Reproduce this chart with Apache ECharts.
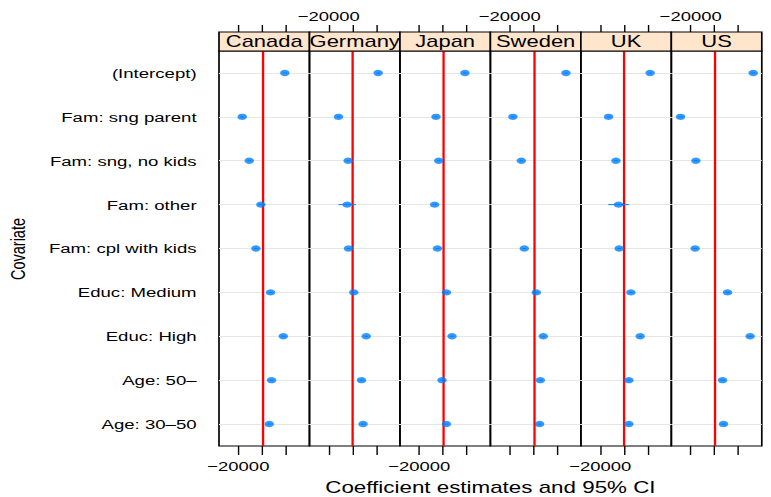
<!DOCTYPE html>
<html>
<head>
<meta charset="utf-8">
<script src="https://cdn.jsdelivr.net/npm/echarts@6.0.0/dist/echarts.min.js"></script>
<style>
    html, body {margin: 0; padding: 0; background: #fff; overflow: hidden;}
    /* the original plot is stretched sideways, so draw narrow and stretch */
    #main {width: 551px; height: 497px; transform: scaleX(1.39927); transform-origin: 0 0;}
</style>
</head>
<body>
<div id="main"></div>
<script>
const countries = ['Canada', 'Germany', 'Japan', 'Sweden', 'UK', 'US'];
const covariates = ['(Intercept)', 'Fam: sng parent', 'Fam: sng, no kids', 'Fam: other',
    'Fam: cpl with kids', 'Educ: Medium', 'Educ: High', 'Age: 50\u2013', 'Age: 30\u201350'];

// coefficient estimates, one array per country (null = not estimated)
const canada = [19200, -16700, -10800, -1000, -5200, 7200, 17900, 8000, 6100];
const germany = [21600, -11800, -3700, -4500, -3400, 1100, 11500, 7600, 8900];
const japan = [18500, -5900, -3600, -7000, -4700, 2900, 7600, -800, 2900];
const sweden = [27400, -17300, -10200, null, -7700, 2400, 8300, 5800, 5200];
const uk = [22100, -12900, -6700, -4500, -4000, 5900, 13700, 4200, 4200];
const us = [32700, -28500, -15600, null, -16200, 11100, 30100, 6900, 7700];

// half width of the 95% CI
const canadaCI = [1500, 1500, 1500, 2500, 1500, 1500, 1500, 1500, 1500];
const germanyCI = [1500, 1500, 1500, 7300, 1500, 1500, 1500, 1500, 1500];
const japanCI = [1500, 1500, 1500, 1500, 1500, 1500, 1500, 1500, 1500];
const swedenCI = [1500, 1500, 1500, null, 1500, 1500, 1500, 1500, 1500];
const ukCI = [1500, 1500, 1500, 8700, 1500, 1500, 1500, 1500, 1500];
const usCI = [2000, 2000, 2000, null, 2000, 2000, 2000, 2000, 2000];

const xTicks = [-20000, 0, 20000];
const xTickLabels = [-20000];
const xMin = -36300;
const xMax = 39900;

const estimates = [canada, germany, japan, sweden, uk, us];
const halfCI = [canadaCI, germanyCI, japanCI, swedenCI, ukCI, usCI];

// layout (in unstretched pixels)
const SX = 771 / 551;
const px = v => v / SX;
const PANEL_LEFT = px(219);
const PANEL_W = px(761.8 - 219) / 6;
const PANEL_TOP = 51;
const PANEL_H = 395;
const STRIP_H = 19;
const FONT = '"Liberation Sans", Arial, Helvetica, sans-serif';

const fmt = v => String(v).replace('-', '\u2212');

const grids = [], xAxes = [], yAxes = [], series = [], graphics = [];

countries.forEach((name, i) => {
    const left = PANEL_LEFT + i * PANEL_W;
    grids.push({
        left: left, top: PANEL_TOP, width: PANEL_W, height: PANEL_H,
        show: true, borderColor: '#000', borderWidth: 1.2,
        backgroundColor: 'transparent', containLabel: false, outerBoundsMode: 'none'
    });

    const xBase = {
        type: 'value', gridIndex: i, min: xMin, max: xMax,
        splitLine: {show: false}, axisLine: {show: false}
    };
    const labelBase = {customValues: xTickLabels, formatter: fmt, fontSize: 13.2, color: '#000', fontFamily: FONT};
    xAxes.push(Object.assign({}, xBase, {
        position: 'bottom',
        axisTick: {show: true, length: 9, customValues: xTicks, lineStyle: {color: '#000', width: 1}},
        axisLabel: Object.assign({show: i % 2 === 0, margin: 14}, labelBase)
    }));
    xAxes.push(Object.assign({}, xBase, {
        position: 'top', offset: STRIP_H,
        axisTick: {show: true, length: 7, customValues: xTicks, lineStyle: {color: '#000', width: 1}},
        axisLabel: Object.assign({show: i % 2 === 1, margin: 9}, labelBase)
    }));

    yAxes.push({
        type: 'category', gridIndex: i, data: covariates, inverse: true, boundaryGap: true,
        position: i === 5 ? 'right' : 'left',
        axisLine: {show: false},
        axisTick: {show: i === 0 || i === 5, alignWithLabel: true, interval: 0, length: 8, lineStyle: {color: '#000', width: 1}},
        axisLabel: {show: i === 0, interval: 0, margin: 16, fontSize: 13.3, color: '#000', fontFamily: FONT},
        splitLine: {show: false}
    });

    const pts = [];
    const cis = [];
    estimates[i].forEach((v, k) => {
        if (v === null) return;
        pts.push([v, k]);
        cis.push([v - halfCI[i][k], v + halfCI[i][k], k]);
    });

    series.push({
        type: 'custom', xAxisIndex: 2 * i, yAxisIndex: i, z: 3, silent: true,
        data: cis, encode: {x: [0, 1], y: 2},
        renderItem: (params, api) => {
            const a = api.coord([api.value(0), api.value(2)]);
            const b = api.coord([api.value(1), api.value(2)]);
            return {
                type: 'line',
                shape: {x1: a[0], y1: a[1], x2: b[0], y2: b[1]},
                style: {stroke: '#0080ff', lineWidth: 1}
            };
        }
    });

    series.push({
        type: 'scatter', xAxisIndex: 2 * i, yAxisIndex: i, z: 4,
        symbol: 'circle', symbolSize: [6.8, 6.3],
        itemStyle: {color: '#0080ff'},
        data: pts,
        markLine: {
            silent: true, z: 1, symbol: ['none', 'none'], label: {show: false}, animation: false,
            data: covariates.map((c, k) => ({yAxis: k, lineStyle: {color: '#e6e6e6', width: 1, type: 'solid'}}))
                .concat([{xAxis: 0, lineStyle: {color: '#ff0000', width: 1.65, type: 'solid'}}])
        }
    });

    // strip with the country name
    graphics.push({
        type: 'rect', z: 10,
        shape: {x: left, y: PANEL_TOP - STRIP_H, width: PANEL_W, height: STRIP_H},
        style: {fill: '#ffe5cc', stroke: '#000', lineWidth: 1.2}
    });
    graphics.push({
        type: 'text', z: 11,
        x: left + PANEL_W / 2, y: PANEL_TOP - STRIP_H / 2 + 0.5,
        style: {
            text: name, fill: '#000', fontSize: 15.7, fontFamily: FONT,
            align: 'center', verticalAlign: 'middle', textAlign: 'center', textVerticalAlign: 'middle'
        }
    });
});

graphics.push({
    type: 'text', x: px(18.5), y: 249, rotation: Math.PI / 2,
    style: {
        text: 'Covariate', fill: '#000', fontSize: 14.5, fontFamily: FONT,
        align: 'center', verticalAlign: 'middle', textAlign: 'center', textVerticalAlign: 'middle'
    }
});
graphics.push({
    type: 'text', x: PANEL_LEFT + 3 * PANEL_W, y: 487,
    style: {
        text: 'Coefficient estimates and 95% CI', fill: '#000', fontSize: 16, fontFamily: FONT,
        align: 'center', verticalAlign: 'middle', textAlign: 'center', textVerticalAlign: 'middle'
    }
});

const chart = echarts.init(document.getElementById('main'), null, {renderer: 'svg'});
const option = {
    animation: false,
    backgroundColor: '#fff',
    grid: grids,
    xAxis: xAxes,
    yAxis: yAxes,
    series: series,
    graphic: graphics
};
option && chart.setOption(option);
</script>
</body>
</html>
